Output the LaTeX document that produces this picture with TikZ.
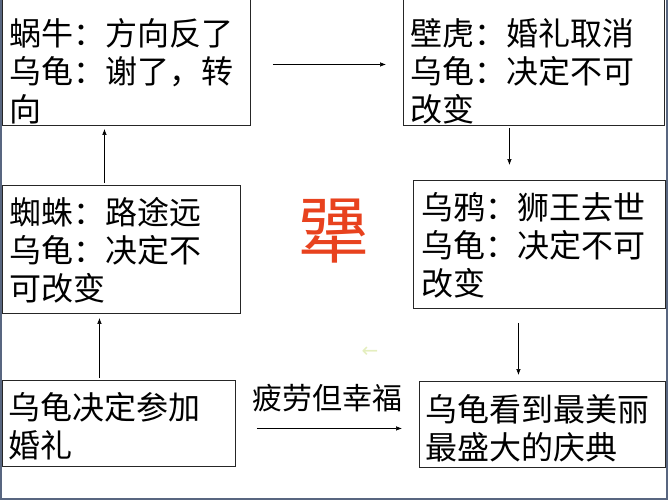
\documentclass[tikz,border=0pt]{standalone}
\usepackage{fontspec}
\newfontfamily\cjk{Noto Sans CJK SC}
\newfontfamily\symfont{DejaVu Sans}
\usetikzlibrary{arrows.meta, positioning}
\definecolor{frameblue}{RGB}{88,102,128}
\definecolor{stubborn}{RGB}{232,66,30}
\definecolor{faint}{RGB}{228,238,190}
\tikzset{
    box/.style={draw=black!85, line width=0.9pt, anchor=north west, inner sep=0pt},
    words/.style={anchor=north west, align=left, inner sep=0pt, font=\cjk\fontsize{32}{38}\selectfont},
    link/.style={-{Latex[length=6pt,width=4.5pt]}, line width=0.6pt},
}

\begin{document}
\begin{tikzpicture}[x=1pt, y=-1pt]
    \useasboundingbox (0,0) rectangle (668,500);

    % Draw frame
    \draw[frameblue, line width=1.5pt] (0.75,-5) -- (0.75,498.75) -- (666.75,498.75) -- (666.75,-5);

    % Draw boxes
    \node[box, minimum width=248pt, minimum height=128pt] (snail) at (2,-3) {};
    \node[box, minimum width=261pt, minimum height=128pt] (gecko) at (403,-3) {};
    \node[box, minimum width=238pt, minimum height=128pt] (spider) at (2,185) {};
    \node[box, minimum width=252pt, minimum height=128pt] (crow) at (413,180) {};
    \node[box, minimum width=233pt, minimum height=86pt] (start) at (2,380) {};
    \node[box, minimum width=246pt, minimum height=86pt] (end) at (419,381) {};

    % Draw texts
    \node[words] (snailtxt) at (9,18) {蜗牛：方向反了\\乌龟：谢了，转\\向};
    \node[words] (geckotxt) at (410,18) {壁虎：婚礼取消\\乌龟：决定不可\\改变};
    \node[words] (spidertxt) at (9,197) {蜘蛛：路途远\\乌龟：决定不\\可改变};
    \node[words] (crowtxt) at (421,192) {乌鸦：狮王去世\\乌龟：决定不可\\改变};
    \node[words] (starttxt) at (8,392) {乌龟决定参加\\婚礼};
    \node[words] (endtxt) at (425,394) {乌龟看到最美丽\\最盛大的庆典};

    \node[text=stubborn, inner sep=0pt, font=\cjk\fontsize{72}{72}\selectfont] (stubborn) at (333,231) {犟};
    \node[text=faint, inner sep=0pt, font=\symfont\fontsize{20}{20}\selectfont] (hint) at (370,352) {←};

    % Draw arrows
    \draw[link, shorten <=22pt, shorten >=17pt] ([yshift=-3pt]snail.east) -- ([yshift=-3pt]snail.east -| gecko.west);
    \draw[link, shorten <=2pt, shorten >=15pt] ([xshift=-24.5pt]gecko.south) -- ([xshift=-24.5pt]gecko.south |- crow.north);
    \draw[link, shorten <=14pt, shorten >=6pt] ([xshift=-21pt]crow.south) -- ([xshift=-21pt]crow.south |- end.north);
    \draw[link, shorten <=2pt, shorten >=4pt] ([xshift=-19.5pt]start.north) -- ([xshift=-19.5pt]start.north |- spider.south);
    \draw[link, shorten <=2pt, shorten >=3pt] ([xshift=-17pt]spider.north) -- ([xshift=-17pt]spider.north |- snail.south);
    \draw[link, shorten <=21pt, shorten >=17pt] ([yshift=-5pt]start.east) -- ([yshift=-5pt]start.east -| end.west)
        node[midway, above=16pt, inner sep=0pt, font=\cjk\fontsize{30}{30}\selectfont] (joy) {疲劳但幸福};
\end{tikzpicture}
\end{document}
